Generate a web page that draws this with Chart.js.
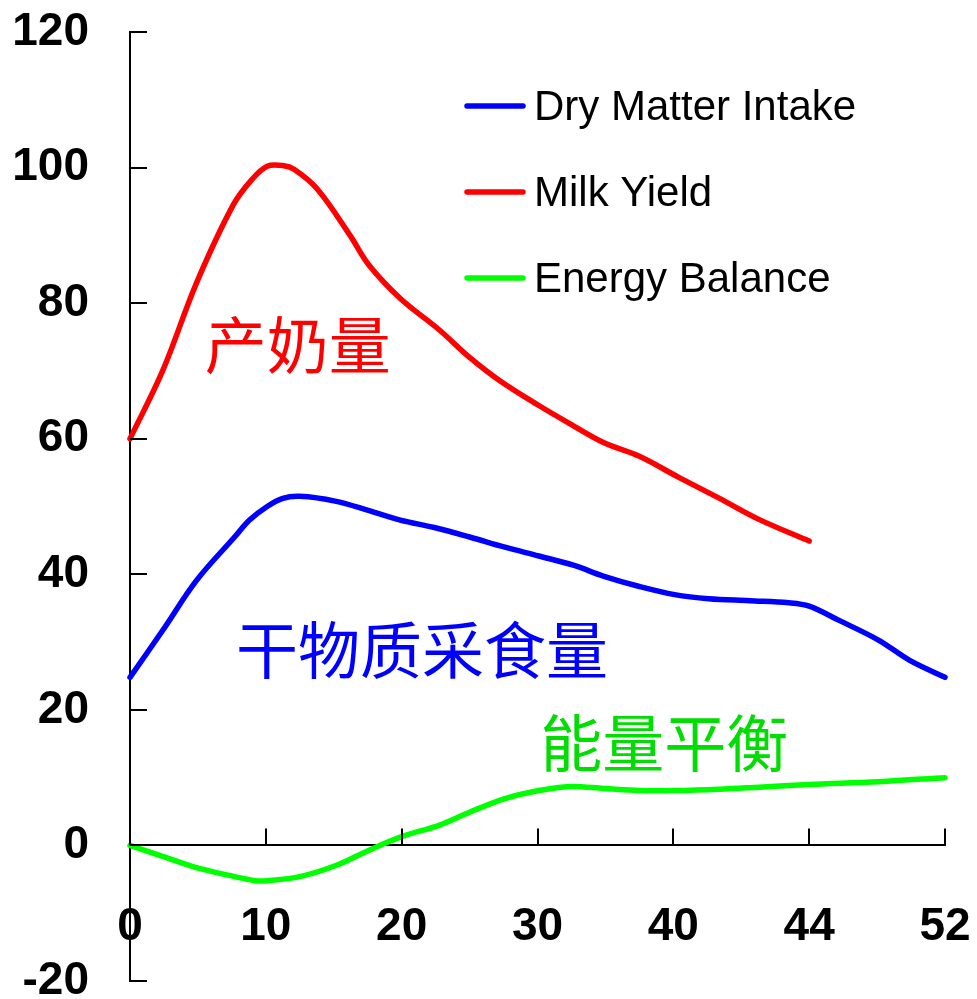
<!DOCTYPE html>
<html>
<head>
<meta charset="utf-8">
<script src="https://cdn.jsdelivr.net/npm/chart.js@4"></script>
<style>
  html, body { margin: 0; padding: 0; background: #fff; }
  #wrap { width: 977px; height: 999px; }
</style>
</head>
<body>
<div id="wrap"><canvas id="myChart" width="977" height="999"></canvas></div>
<script>
// x values are axis positions (0..60); the last two ticks are labelled 44 and 52
var xTickLabels = ['0', '10', '20', '30', '40', '44', '52'];

var milkX = [0, 2.4, 4.9, 7.6, 9, 10.1, 11.25, 12.1, 13.8, 16.2, 17.6, 19.9, 22.8, 25, 27.2, 30.1, 32.4, 34.9, 37.5, 40.4, 43.4, 46.3, 50];
var milkY = [60, 70, 83, 94.5, 98.3, 100.2, 100.3, 99.7, 96.8, 90, 85.6, 80.7, 76, 72, 68.6, 64.9, 62.2, 59.4, 57.4, 54.3, 51.2, 48.1, 44.9];

var dmiX = [0, 2.4, 4.9, 7.7, 8.8, 10.1, 11.25, 12.5, 15.1, 17.6, 19.9, 22.4, 25, 27.6, 30.1, 32.7, 34.9, 37.5, 40.1, 42.6, 45.6, 48.5, 50, 52.2, 55.1, 57.4, 60];
var dmiY = [24.8, 31.7, 39.1, 45.5, 48, 50, 51.2, 51.5, 50.8, 49.4, 48, 46.9, 45.5, 44, 42.7, 41.3, 39.7, 38.2, 37, 36.4, 36.1, 35.8, 35.3, 33.2, 30.3, 27.3, 24.8];

var ebX = [0, 2.4, 5.1, 7.7, 9.2, 10.1, 12.5, 15.1, 17.6, 20, 22.8, 25, 27.6, 30.1, 32.4, 34.9, 37.5, 40.1, 43.4, 46.3, 50, 55.1, 60];
var ebY = [0, -1.6, -3.4, -4.6, -5.2, -5.2, -4.6, -3, -0.7, 1.3, 3, 4.9, 6.9, 8.1, 8.7, 8.4, 8.1, 8.1, 8.3, 8.6, 9, 9.4, 10];

function pts(xs, ys) {
  return xs.map(function (x, i) { return { x: x, y: ys[i] }; });
}

// chinese labels inside the plot, anchored in data units
var notes = [
  { text: '产奶量', x: 5.5, y: 73.8, color: '#ff0000' },
  { text: '干物质采食量', x: 7.8, y: 28.8, color: '#0000ff' },
  { text: '能量平衡', x: 30.2, y: 15.1, color: '#00dd00' }
];

var insideTicks = {
  id: 'insideTicks',
  afterDraw: function (chart) {
    var c = chart.ctx, xs = chart.scales.x, ys = chart.scales.y;
    var y0 = ys.getPixelForValue(0);
    c.save();
    c.strokeStyle = '#000';
    c.lineWidth = 2;
    c.beginPath();
    ys.ticks.forEach(function (t) {
      var py = Math.round(ys.getPixelForValue(t.value));
      c.moveTo(xs.left, py);
      c.lineTo(xs.left + 17, py);
    });
    xs.ticks.forEach(function (t) {
      var px = Math.round(xs.getPixelForValue(t.value));
      c.moveTo(px, y0);
      c.lineTo(px, y0 - 17);
    });
    c.stroke();

    // chinese annotations
    c.font = '62px "Noto Sans CJK SC"';
    c.textAlign = 'left';
    c.textBaseline = 'middle';
    notes.forEach(function (n) {
      c.fillStyle = n.color;
      c.fillText(n.text, xs.getPixelForValue(n.x), ys.getPixelForValue(n.y));
    });

    // legend
    c.font = '42px "Liberation Sans", Arial, sans-serif';
    chart.data.datasets.forEach(function (ds, i) {
      var ly = 106 + i * 86;
      c.strokeStyle = ds.borderColor;
      c.lineWidth = 5.5;
      c.lineCap = 'round';
      c.beginPath();
      c.moveTo(467, ly);
      c.lineTo(523, ly);
      c.stroke();
      c.fillStyle = '#000';
      c.fillText(ds.label, 534, ly + 2);
    });
    c.restore();
  }
};

var tickFont = { family: '"Liberation Sans", Arial, sans-serif', size: 46, weight: 'bold' };

var ctx = document.getElementById('myChart').getContext('2d');
var myChart = new Chart(ctx, {
  type: 'line',
  data: {
    datasets: [
      { label: 'Dry Matter Intake', data: pts(dmiX, dmiY), borderColor: '#0000ff' },
      { label: 'Milk Yield', data: pts(milkX, milkY), borderColor: '#ff0000' },
      { label: 'Energy Balance', data: pts(ebX, ebY), borderColor: '#00ff00' }
    ]
  },
  options: {
    responsive: false,
    animation: false,
    layout: { padding: { top: 32, bottom: 18, left: 0, right: 32 } },
    elements: {
      line: { borderWidth: 5.5, tension: 0.35, borderCapStyle: 'round', borderJoinStyle: 'round', fill: false },
      point: { radius: 0 }
    },
    datasets: { line: { clip: false } },
    plugins: {
      legend: { display: false },
      tooltip: { enabled: false }
    },
    scales: {
      x: {
        type: 'linear',
        position: { y: 0 },
        min: 0,
        max: 60,
        grid: { display: false, drawTicks: false },
        border: { display: true, color: '#000', width: 2 },
        afterFit: function (s) { s.paddingLeft = 0; s.paddingRight = 0; },
        ticks: {
          stepSize: 10,
          padding: 54,
          color: '#000',
          font: tickFont,
          maxRotation: 0,
          callback: function (v) { return xTickLabels[v / 10]; }
        }
      },
      y: {
        min: -20,
        max: 120,
        grid: { display: false, drawTicks: false },
        border: { display: true, color: '#000', width: 2 },
        afterFit: function (s) { s.width = 130; s.paddingTop = 0; s.paddingBottom = 0; },
        ticks: {
          stepSize: 20,
          padding: 41,
          color: '#000',
          font: tickFont
        }
      }
    }
  },
  plugins: [insideTicks]
});
</script>
</body>
</html>
